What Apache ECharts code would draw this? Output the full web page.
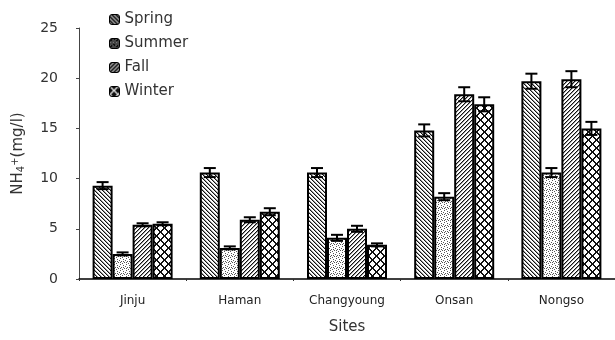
<!DOCTYPE html>
<html>
<head>
<meta charset="utf-8">
<script src="https://cdn.jsdelivr.net/npm/echarts@6/dist/echarts.min.js"></script>
<style>
  html, body { margin: 0; padding: 0; background: #fff; }
  #chart { width: 615px; height: 340px; }
</style>
</head>
<body>
<div id="chart"></div>
<script>
// Sampling sites along the x axis
const sites = ['Jinju', 'Haman', 'Changyoung', 'Onsan', 'Nongso'];
const seasons = ['Spring', 'Summer', 'Fall', 'Winter'];

// Mean NH4+ concentration (mg/l) per season
const spring = [9.3, 10.6, 10.6, 14.8, 19.7];
const summer = [2.5, 3.1, 4.1, 8.2, 10.6];
const fall   = [5.4, 5.9, 5.0, 18.4, 19.9];
const winter = [5.5, 6.7, 3.4, 17.4, 15.0];

// Error bar half-lengths (mg/l)
const errSpring = [0.35, 0.45, 0.45, 0.6, 0.75];
const errSummer = [0.15, 0.15, 0.3, 0.35, 0.45];
const errFall   = [0.15, 0.25, 0.3, 0.7, 0.8];
const errWinter = [0.15, 0.35, 0.15, 0.7, 0.65];

// Y axis ticks
const yTicks = [0, 5, 10, 15, 20, 25];

// Build a small repeating fill tile from a pixel painter
function makeTile(size, paint, bg, ink, soft) {
  const c = document.createElement('canvas');
  c.width = size; c.height = size;
  const ctx = c.getContext('2d');
  ctx.fillStyle = bg;
  ctx.fillRect(0, 0, size, size);
  const px = (x, y, weak) => {
    ctx.fillStyle = weak ? soft : ink;
    ctx.fillRect(((x % size) + size) % size, ((y % size) + size) % size, 1, 1);
  };
  paint(px);
  return c;
}

// Pattern painters for each season
const painters = [
  // back-slash hatching
  { size: 4, paint: px => { for (let i = 0; i < 4; i++) { px(i, i); px(i + 1, i, true); } } },
  // stipple dots
  { size: 6, paint: px => {
      [[0,0],[3,1],[1,3],[4,4],[2,5],[5,2],[0,4],[3,3]].forEach(p => px(p[0], p[1]));
    } },
  // forward-slash hatching
  { size: 4, paint: px => { for (let i = 0; i < 4; i++) { px(3 - i, i); px(4 - i, i, true); } } },
  // cross hatching
  { size: 8, paint: px => {
      for (let i = 0; i < 8; i++) { px(i, i); px(i + 1, i); px(7 - i, i); px(8 - i, i); }
    } }
];

const inks = ['#111', '#555', '#111', '#111'];
const fills = painters.map((p, s) => makeTile(p.size, p.paint, '#fff', inks[s], '#999'));
// Legend swatches: dark squares with a light pattern
const swatches = painters.map(p => makeTile(p.size, p.paint, '#111', '#ddd', '#666'));

const values = [spring, summer, fall, winter];
const errors = [errSpring, errSummer, errFall, errWinter];

const BAR_W = 20;
const offsets = [-30, -10, 10, 30];

const series = [];
seasons.forEach((name, s) => {
  series.push({
    name: name,
    type: 'bar',
    data: values[s],
    barWidth: BAR_W,
    barGap: '0%',
    itemStyle: {
      color: { image: fills[s], repeat: 'repeat' },
      borderColor: '#000',
      borderWidth: 2
    },
    emphasis: { disabled: true },
    z: 2
  });
});

// Error bars drawn on top of each bar
seasons.forEach((name, s) => {
  series.push({
    type: 'custom',
    name: name + ' error',
    data: values[s].map((v, i) => [i, v, errors[s][i]]),
    z: 5,
    renderItem: function (params, api) {
      const i = api.value(0), v = api.value(1), e = api.value(2);
      const hi = api.coord([i, v + e]);
      const lo = api.coord([i, v - e]);
      const x = hi[0] + offsets[s];
      const cap = 6;
      const st = { stroke: '#000', lineWidth: 2 };
      return {
        type: 'group',
        children: [
          { type: 'line', shape: { x1: x, y1: hi[1], x2: x, y2: lo[1] }, style: st },
          { type: 'line', shape: { x1: x - cap, y1: hi[1], x2: x + cap, y2: hi[1] }, style: st },
          { type: 'line', shape: { x1: x - cap, y1: lo[1], x2: x + cap, y2: lo[1] }, style: st }
        ]
      };
    }
  });
});

const font = 'DejaVu Sans';
const chart = echarts.init(document.getElementById('chart'), null, { renderer: 'canvas' });
chart.setOption({
  animation: false,
  backgroundColor: '#fff',
  grid: { left: 79, top: 28, width: 539, bottom: 57, containLabel: false },
  legend: {
    data: seasons.map((name, s) => ({
      name: name,
      itemStyle: { color: { image: swatches[s], repeat: 'repeat' }, borderColor: '#000', borderWidth: 1 }
    })),
    orient: 'vertical',
    left: 104,
    top: 7,
    itemWidth: 10,
    itemHeight: 10,
    itemGap: 9,
    selectedMode: false,
    textStyle: { fontFamily: font, fontSize: 15, color: '#333' }
  },
  xAxis: {
    type: 'category',
    data: sites,
    name: 'Sites',
    nameLocation: 'middle',
    nameGap: 41,
    nameTextStyle: { fontFamily: font, fontSize: 15, color: '#333' },
    axisLine: { lineStyle: { color: '#000', width: 1.5 } },
    axisTick: { show: true, length: 2, lineStyle: { color: '#333' } },
    axisLabel: { fontFamily: font, fontSize: 12, color: '#222', margin: 16 }
  },
  yAxis: {
    type: 'value',
    min: yTicks[0],
    max: yTicks[yTicks.length - 1],
    interval: yTicks[1] - yTicks[0],
    name: '{m|NH}{sub|4}{sup|+}{m|(mg/l)}',
    nameLocation: 'middle',
    nameGap: 53,
    nameTextStyle: {
      fontFamily: font, fontSize: 15, color: '#333',
      rich: {
        m: { fontFamily: font, fontSize: 15, color: '#333' },
        sub: { fontFamily: font, fontSize: 10, color: '#333', verticalAlign: 'bottom', lineHeight: 16 },
        sup: { fontFamily: font, fontSize: 10, color: '#333', verticalAlign: 'top', lineHeight: 16 }
      }
    },
    splitLine: { show: false },
    axisLine: { show: true, lineStyle: { color: '#444', width: 1 } },
    axisTick: { show: true, length: 3, lineStyle: { color: '#444' } },
    axisLabel: { fontFamily: font, fontSize: 14, color: '#333', margin: 21 }
  },
  series: series
});
</script>
</body>
</html>
